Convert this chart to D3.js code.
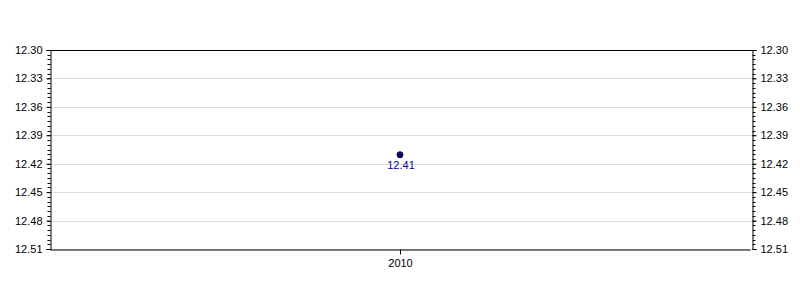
<!DOCTYPE html>
<html><head><meta charset="utf-8">
<script src="https://cdn.jsdelivr.net/npm/d3@7"></script>
<style>body{margin:0;background:#fff}svg{display:block}text{font-family:"Liberation Sans",Arial,sans-serif;font-size:11px}</style>
</head><body><svg id="c" width="800" height="300"></svg>
<script>
const categories = ["2010"];
const values = [12.41];
const yTicks = [12.30, 12.33, 12.36, 12.39, 12.42, 12.45, 12.48, 12.51];
const yDomain = [12.30, 12.51];

const svg = d3.select("#c");
const L = 50, R = 752, T = 50, B = 249;
const x = d3.scalePoint().domain(categories).range([L, R - 2]).padding(0.5);
const y = d3.scaleLinear().domain(yDomain).range([T, B]);

// grid
svg.append("g").selectAll("line").data(yTicks).join("line")
  .attr("x1", L).attr("x2", R)
  .attr("y1", d => Math.round(y(d)) + 0.5).attr("y2", d => Math.round(y(d)) + 0.5)
  .attr("stroke", "#dcdcdc").attr("stroke-width", 1);

const minor = d3.range(0, 43).map(i => yDomain[0] + i * 0.005);

function yAxis(g, side) {
  const ax = side === "left" ? d3.axisLeft(y) : d3.axisRight(y);
  g.call(ax.tickValues(yTicks).tickFormat(d3.format(".2f")).tickSize(4).tickPadding(4));
  g.select(".domain").attr("stroke", "#000");
  g.selectAll("text").attr("fill", "#000").style("font-size", "11px");
  const mg = g.append("g");
  mg.selectAll("line").data(minor).join("line")
    .attr("x1", 0).attr("x2", side === "left" ? -3 : 3)
    .attr("y1", d => Math.round(y(d)) + 0.5).attr("y2", d => Math.round(y(d)) + 0.5)
    .attr("stroke", "#000");
}
svg.append("g").attr("transform", `translate(${L + 0.5},0)`).call(g => yAxis(g, "left"));
svg.append("g").attr("transform", `translate(${R + 0.5},0)`).call(g => yAxis(g, "right"));

// top border
svg.append("line").attr("x1", L).attr("x2", R + 1).attr("y1", T + 0.5).attr("y2", T + 0.5).attr("stroke", "#000");

// x axis
const xg = svg.append("g").attr("transform", `translate(0,${B + 0.5})`)
  .call(d3.axisBottom(x).tickSize(5).tickPadding(5).tickSizeOuter(0));
xg.select(".domain").attr("stroke", "#000");
xg.selectAll("text").attr("fill", "#000").style("font-size", "11px");

// points
const pts = categories.map((c, i) => ({c, v: values[i]}));
svg.append("g").selectAll("circle").data(pts).join("circle")
  .attr("cx", d => x(d.c)).attr("cy", d => y(d.v) + 0.5).attr("r", 3)
  .attr("fill", "#000080").attr("stroke", "#000").attr("stroke-width", 1);
svg.append("g").selectAll("text").data(pts).join("text")
  .attr("x", d => x(d.c) + 1).attr("y", d => y(d.v) + 14.5)
  .attr("text-anchor", "middle").attr("fill", "#0000a0")
  .text(d => d3.format(".2f")(d.v));
</script></body></html>
